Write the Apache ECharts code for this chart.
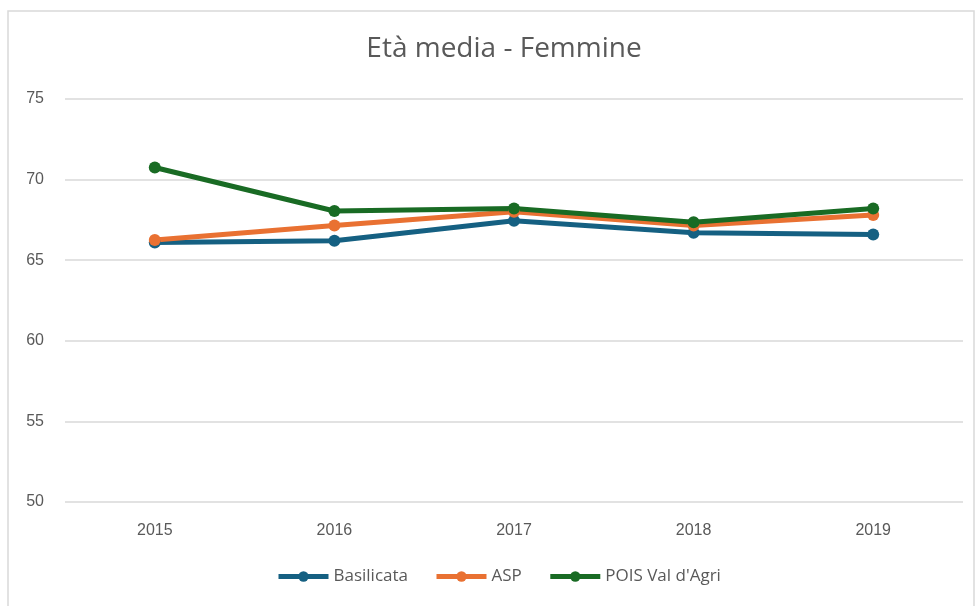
<!DOCTYPE html>
<html><head><meta charset="utf-8">
<script src="https://cdn.jsdelivr.net/npm/echarts@6/dist/echarts.min.js"></script>
<style>html,body{margin:0;padding:0;background:#fff}#c{width:978px;height:606px}</style>
</head><body><div id="c"></div>
<script>
const categories = ['2015', '2016', '2017', '2018', '2019'];
const basilicata = [66.1, 66.2, 67.45, 66.7, 66.6];
const asp = [66.25, 67.15, 68.0, 67.15, 67.8];
const pois = [70.75, 68.05, 68.2, 67.35, 68.2];
const seriesNames = ['Basilicata', 'ASP', "POIS Val d'Agri"];
const colors = ['#156082', '#E97132', '#196B24'];

const chart = echarts.init(document.getElementById('c'));
const mk = (name, data, color) => ({
  name, type: 'line', data, symbol: 'circle', symbolSize: 12,
  lineStyle: { width: 5, color }, itemStyle: { color }, z: 3
});
chart.setOption({
  animation: false,
  graphic: [{ type: 'rect', shape: { x: 8, y: 11, width: 966, height: 600 },
    style: { fill: 'none', stroke: '#d9d9d9', lineWidth: 1.5 }, silent: true }],
  title: { text: 'Età media - Femmine', left: 499, textAlign: 'center', top: 30,
    textStyle: { fontFamily: 'Open Sans', fontWeight: 'normal', fontSize: 28, color: '#595959' } },
  grid: { left: 65, right: 15, top: 99, bottom: 104 },
  legend: { bottom: 16, left: 271, itemWidth: 50, itemHeight: 13, itemGap: 26,
    lineStyle: { width: 5 },
    textStyle: { fontFamily: 'Open Sans', fontSize: 17, color: '#595959' }, data: seriesNames },
  xAxis: { type: 'category', data: categories, boundaryGap: true,
    axisLine: { show: false }, axisTick: { show: false },
    axisLabel: { margin: 21, fontFamily: 'Liberation Sans', fontSize: 16, color: '#595959' } },
  yAxis: { type: 'value', min: 50, max: 75, interval: 5,
    axisLine: { show: false }, axisTick: { show: false },
    splitLine: { lineStyle: { color: '#d9d9d9', width: 1.5 } },
    axisLabel: { margin: 21, fontFamily: 'Liberation Sans', fontSize: 16, color: '#595959' } },
  series: [mk(seriesNames[0], basilicata, colors[0]), mk(seriesNames[1], asp, colors[1]), mk(seriesNames[2], pois, colors[2])]
});
</script></body></html>
